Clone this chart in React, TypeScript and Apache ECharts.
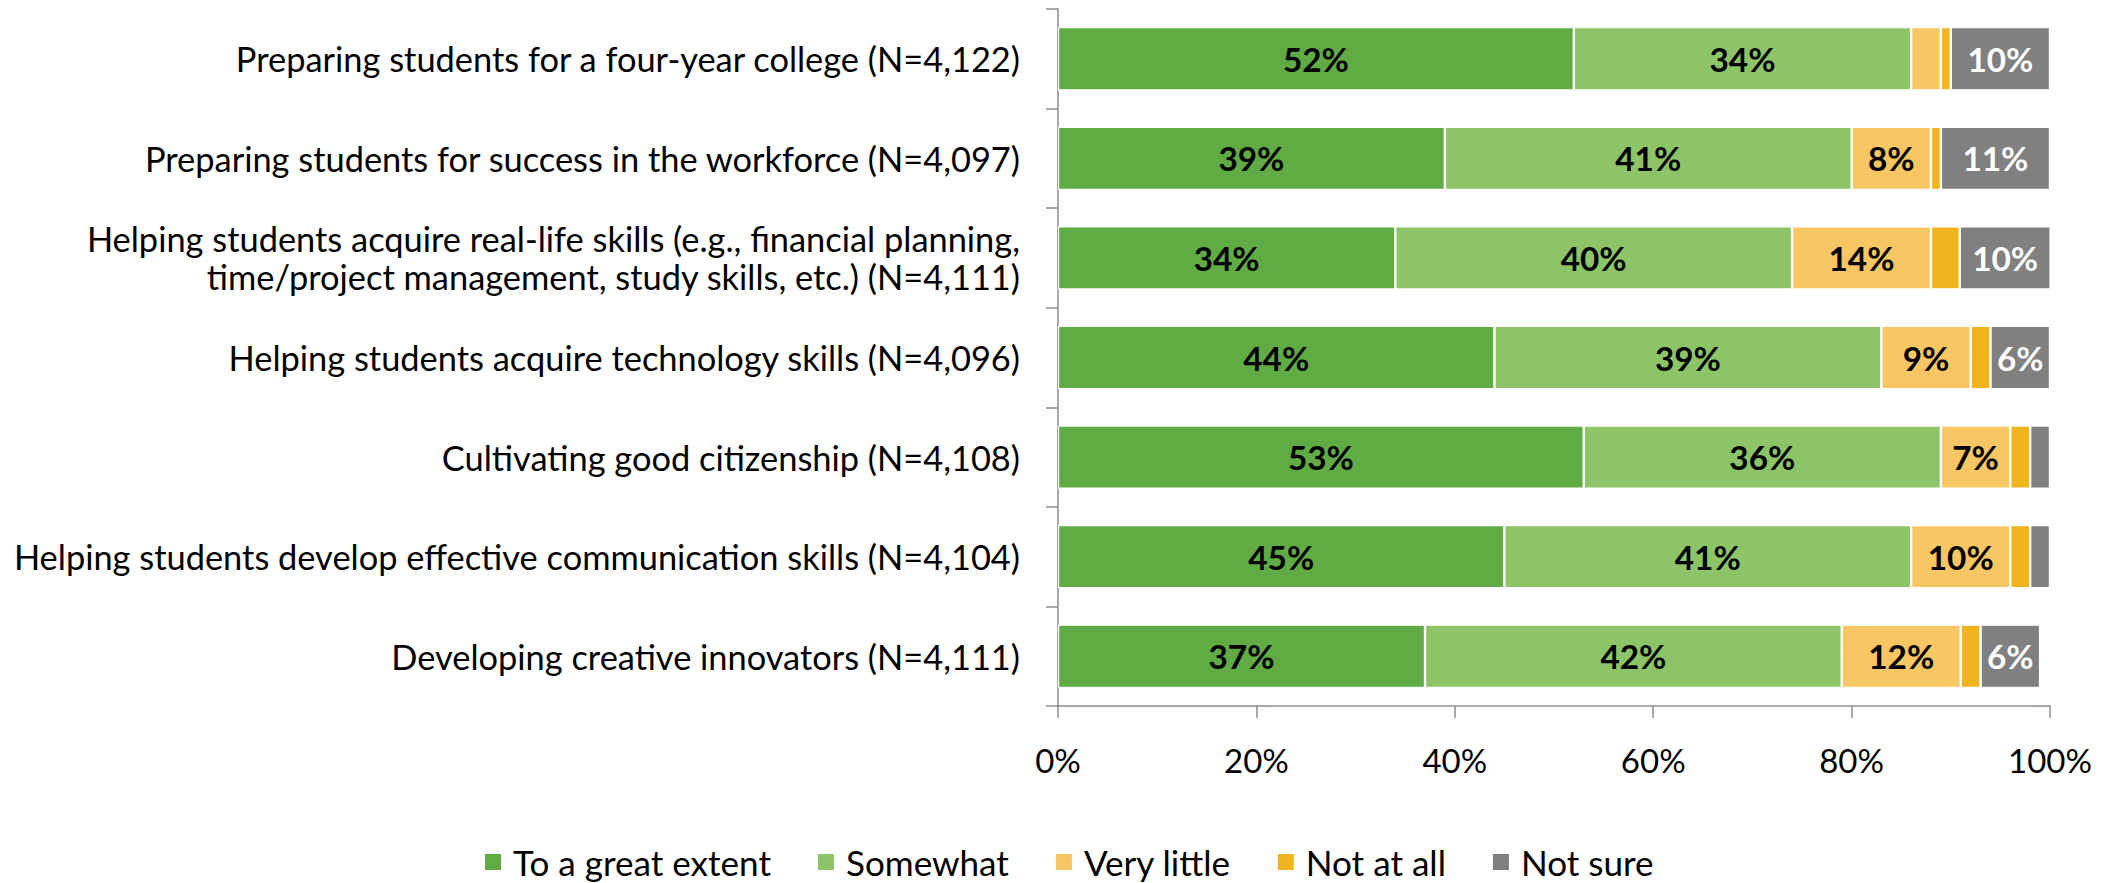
import React, { useEffect, useRef } from "react";
import * as echarts from "echarts";

const categories = [
  "Preparing students for a four-year college (N=4,122)",
  "Preparing students for success in the workforce (N=4,097)",
  "Helping students acquire real-life skills (e.g., financial planning,\ntime/project management, study skills, etc.) (N=4,111)",
  "Helping students acquire technology skills (N=4,096)",
  "Cultivating good citizenship (N=4,108)",
  "Helping students develop effective communication skills (N=4,104)",
  "Developing creative innovators (N=4,111)",
];

const seriesNames = ["To a great extent", "Somewhat", "Very little", "Not at all", "Not sure"];

const greatExtent = [52, 39, 34, 44, 53, 45, 37];
const somewhat = [34, 41, 40, 39, 36, 41, 42];
const veryLittle = [3, 8, 14, 9, 7, 10, 12];
const notAtAll = [1, 1, 2.9, 2, 2, 2, 2];
const notSure = [10, 11, 10, 6, 2, 2, 6];

const xTicks = [0, 20, 40, 60, 80, 100];

const colors = ["#61AB45", "#8DC468", "#F8C662", "#F2B41D", "#808080"];
const labelColors = ["#000000", "#000000", "#000000", "#000000", "#FFFFFF"];

const FONT = "Lato";

function fitSize(text: string, target: number, weight = "normal") {
  const ctx = document.createElement("canvas").getContext("2d");
  if (!ctx) return 30;
  ctx.font = `${weight} 100px ${FONT}`;
  const w = ctx.measureText(text).width;
  return (100 * target) / w;
}

export default function App() {
  const ref = useRef<HTMLDivElement>(null);

  useEffect(() => {
    if (!ref.current) return;
    const chart = echarts.init(ref.current, null, { renderer: "svg" });

    const catSize = fitSize(categories[0], 786);
    const tickSize = fitSize("100%", 84);
    const legSize = fitSize(seriesNames[0], 258);
    const dataSize = fitSize("52%", 66, "bold");

    const allData = [greatExtent, somewhat, veryLittle, notAtAll, notSure];

    const series = allData.map((d, i) => ({
      name: seriesNames[i],
      type: "bar",
      stack: "total",
      data: d,
      barWidth: "63.5%",
      itemStyle: { color: colors[i], borderColor: "#FFFFFF", borderWidth: 1.2 },
      label: {
        show: true,
        position: "inside",
        color: labelColors[i],
        fontFamily: FONT,
        fontWeight: "bold",
        fontSize: dataSize,
        formatter: (p: any) => (p.value >= 5 ? Math.round(p.value) + "%" : ""),
      },
      emphasis: { disabled: true },
    }));

    const axisColor = "#8C8C8C";

    chart.setOption({
      animation: false,
      textStyle: { fontFamily: FONT },
      grid: { left: 1058, right: 62, top: 9, bottom: 177, containLabel: false },
      legend: {
        data: seriesNames,
        left: 483,
        top: 862 - legSize / 2,
        padding: 0,
        icon: "rect",
        itemWidth: 18,
        itemHeight: 18,
        itemGap: 45,
        textStyle: {
          fontFamily: FONT,
          fontSize: legSize,
          color: "#000000",
          padding: [0, 0, 0, 6],
        },
        selectedMode: false,
      },
      xAxis: {
        type: "value",
        min: xTicks[0],
        max: xTicks[xTicks.length - 1],
        interval: xTicks[1] - xTicks[0],
        axisLine: { show: true, lineStyle: { color: axisColor, width: 1.5 } },
        axisTick: { show: true, length: 12, lineStyle: { color: axisColor, width: 1.5 } },
        splitLine: { show: false },
        axisLabel: {
          formatter: "{value}%",
          margin: 37,
          fontFamily: FONT,
          fontSize: tickSize,
          color: "#000000",
        },
      },
      yAxis: {
        type: "category",
        inverse: true,
        data: categories,
        axisLine: { show: true, lineStyle: { color: axisColor, width: 1.5 } },
        axisTick: { show: true, length: 12, lineStyle: { color: axisColor, width: 1.5 } },
        axisLabel: {
          margin: 38,
          fontFamily: FONT,
          fontSize: catSize,
          lineHeight: 38,
          color: "#000000",
          align: "right",
        },
      },
      series,
    });

    return () => chart.dispose();
  }, []);

  return (
    <div
      ref={ref}
      style={{ position: "absolute", left: 0, top: 0, width: 2112, height: 883 }}
    />
  );
}
